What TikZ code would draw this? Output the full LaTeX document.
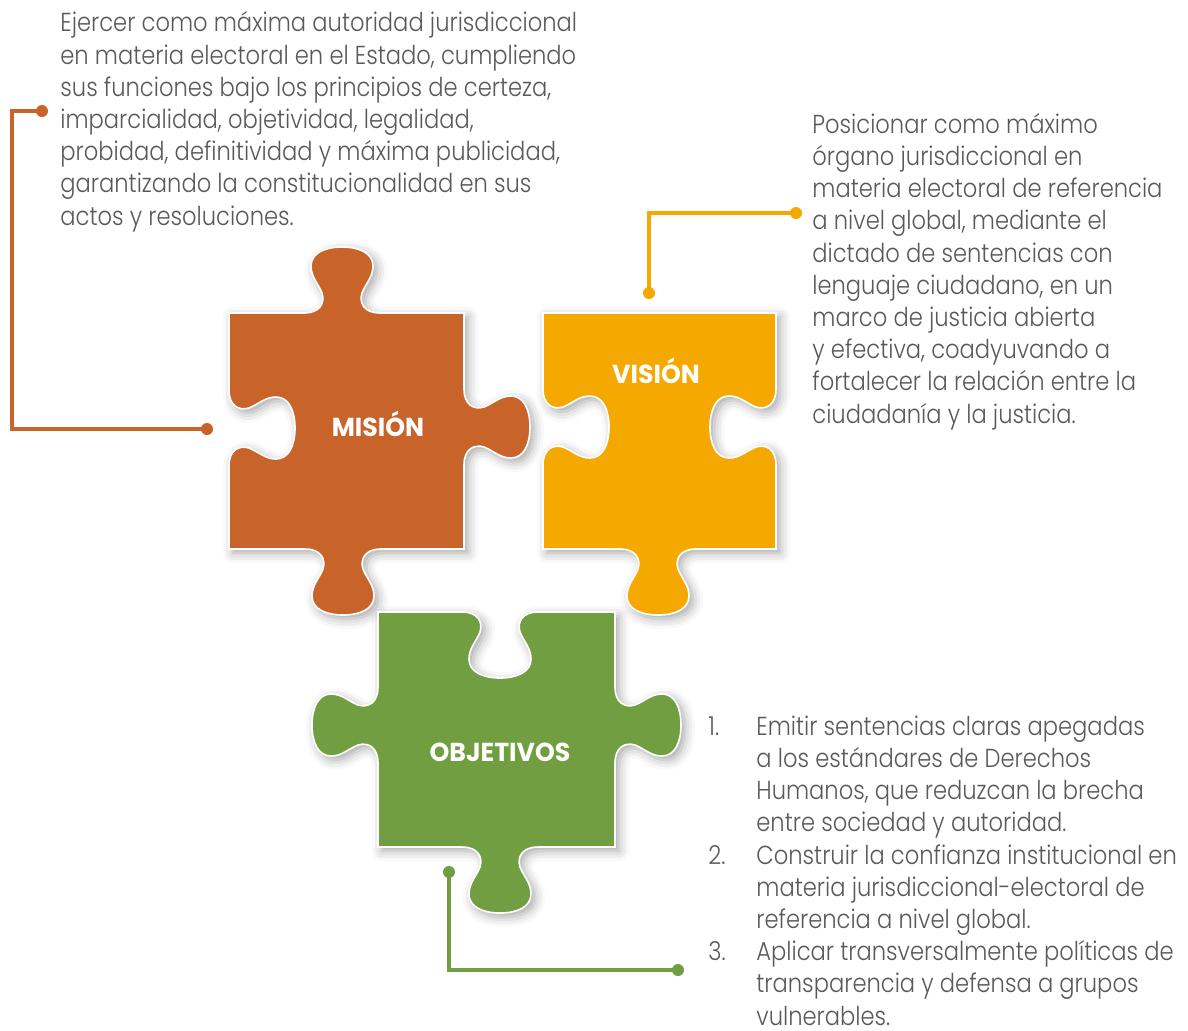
\documentclass[tikz,border=0pt]{standalone}
\usepackage{fontspec}
\setmainfont{Poppins}[UprightFont={* Light}, BoldFont={* Bold}, FakeStretch=0.87,
  BoldFeatures={FakeStretch=0.97}]
\usetikzlibrary{shadows.blur}

\definecolor{misionc}{HTML}{C8642A}
\definecolor{visionc}{HTML}{F5A800}
\definecolor{objc}{HTML}{719E40}
\definecolor{textc}{HTML}{58595B}

% one point of a tab: centre (#1,#2), along (#3,#4), normal (#5,#6), profile (#7,#8)
\newcommand\tq[8]{({#1+(#7)*(#3)+(#8)*(#5)},{#2+(#7)*(#4)+(#8)*(#6)})}
% knob or slot on one edge of a piece
\newcommand\tabedge[6]{%
  -- \tq{#1}{#2}{#3}{#4}{#5}{#6}{-38}{0}
  .. controls \tq{#1}{#2}{#3}{#4}{#5}{#6}{-22}{0} and \tq{#1}{#2}{#3}{#4}{#5}{#6}{-17}{10} .. \tq{#1}{#2}{#3}{#4}{#5}{#6}{-20}{20}
  .. controls \tq{#1}{#2}{#3}{#4}{#5}{#6}{-24}{30} and \tq{#1}{#2}{#3}{#4}{#5}{#6}{-31}{36} .. \tq{#1}{#2}{#3}{#4}{#5}{#6}{-31}{47}
  .. controls \tq{#1}{#2}{#3}{#4}{#5}{#6}{-31}{60} and \tq{#1}{#2}{#3}{#4}{#5}{#6}{-17}{66} .. \tq{#1}{#2}{#3}{#4}{#5}{#6}{0}{66}
  .. controls \tq{#1}{#2}{#3}{#4}{#5}{#6}{17}{66} and \tq{#1}{#2}{#3}{#4}{#5}{#6}{31}{60} .. \tq{#1}{#2}{#3}{#4}{#5}{#6}{31}{47}
  .. controls \tq{#1}{#2}{#3}{#4}{#5}{#6}{31}{36} and \tq{#1}{#2}{#3}{#4}{#5}{#6}{24}{30} .. \tq{#1}{#2}{#3}{#4}{#5}{#6}{20}{20}
  .. controls \tq{#1}{#2}{#3}{#4}{#5}{#6}{17}{10} and \tq{#1}{#2}{#3}{#4}{#5}{#6}{22}{0} .. \tq{#1}{#2}{#3}{#4}{#5}{#6}{38}{0}}

\tikzset{
  piece/.style={draw=white, line width=0.8pt,
    blur shadow={shadow xshift=2pt, shadow yshift=-2pt, shadow blur radius=5pt, shadow opacity=35}},
  plabel/.style={text=white, font=\bfseries\fontsize{13}{15}\selectfont},
  lead/.style={line width=2pt},
  dot/.style={circle, fill, inner sep=0pt, minimum size=6pt},
  body/.style={text=textc, align=left, anchor=base west, inner sep=0pt,
    font=\fontsize{13}{16.1}\selectfont}
}

\begin{document}
\begin{tikzpicture}[x=0.5pt, y=-0.5pt]
    \useasboundingbox (0,0) rectangle (1188,1030);
    % puzzle pieces
    \path[piece, fill=misionc] (229,313) \tabedge{342}{313}{1}{0}{0}{-1} -- (464,313)
        \tabedge{464}{427}{0}{1}{1}{0} -- (464,549)
        \tabedge{343}{549}{-1}{0}{0}{1} -- (229,549)
        \tabedge{229}{428}{0}{-1}{1}{0} -- cycle;
    \path[piece, fill=visionc] (543,313) -- (776,313)
        \tabedge{776}{427}{0}{1}{-1}{0} -- (776,549)
        \tabedge{658}{549}{-1}{0}{0}{1} -- (543,549)
        \tabedge{543}{427}{0}{-1}{1}{0} -- cycle;
    \path[piece, fill=objc] (378,612) \tabedge{500}{612}{1}{0}{0}{1} -- (615,612)
        \tabedge{615}{725}{0}{1}{1}{0} -- (615,847)
        \tabedge{500}{847}{-1}{0}{0}{1} -- (378,847)
        \tabedge{378}{725}{0}{-1}{-1}{0} -- cycle;
    \node[plabel] (mision) at (378,424) {MISIÓN};
    \node[plabel] (vision) at (656,371) {VISIÓN};
    \node[plabel] (objetivos) at (500,752) {OBJETIVOS};
    % texts (placed at the baseline of their last line)
    \node[body] (mtext) at (60,225) {Ejercer como máxima autoridad jurisdiccional\\
        en materia electoral en el Estado, cumpliendo\\
        sus funciones bajo los principios de certeza,\\
        imparcialidad, objetividad, legalidad,\\
        probidad, definitividad y máxima publicidad,\\
        garantizando la constitucionalidad en sus\\
        actos y resoluciones.};
    \node[body] (vtext) at (812,423) {Posicionar como máximo\\
        órgano jurisdiccional en\\
        materia electoral de referencia\\
        a nivel global, mediante el\\
        dictado de sentencias con\\
        lenguaje ciudadano, en un\\
        marco de justicia abierta\\
        y efectiva, coadyuvando a\\
        fortalecer la relación entre la\\
        ciudadanía y la justicia.};
    \node[body] (otext) at (708,1025) {\makebox[24pt][l]{1.}Emitir sentencias claras apegadas\\
        \hspace*{24pt}a los estándares de Derechos\\
        \hspace*{24pt}Humanos, que reduzcan la brecha\\
        \hspace*{24pt}entre sociedad y autoridad.\\
        \makebox[24pt][l]{2.}Construir la confianza institucional en\\
        \hspace*{24pt}materia jurisdiccional-electoral de\\
        \hspace*{24pt}referencia a nivel global.\\
        \makebox[24pt][l]{3.}Aplicar transversalmente políticas de\\
        \hspace*{24pt}transparencia y defensa a grupos\\
        \hspace*{24pt}vulnerables.};
    % leaders
    \node[dot, misionc] (m1) at (42,111) {};
    \node[dot, misionc] (m2) at (207,429) {};
    \draw[lead, misionc] (m1.center) -- ++(-30,0) |- (m2.center);
    \node[dot, visionc] (v1) at (796,213) {};
    \node[dot, visionc] (v2) at (649,293) {};
    \draw[lead, visionc] (v1.center) -| (v2.center);
    \node[dot, objc] (o1) at (449,872) {};
    \node[dot, objc] (o2) at (678,970) {};
    \draw[lead, objc] (o1.center) |- (o2.center);
\end{tikzpicture}
\end{document}
